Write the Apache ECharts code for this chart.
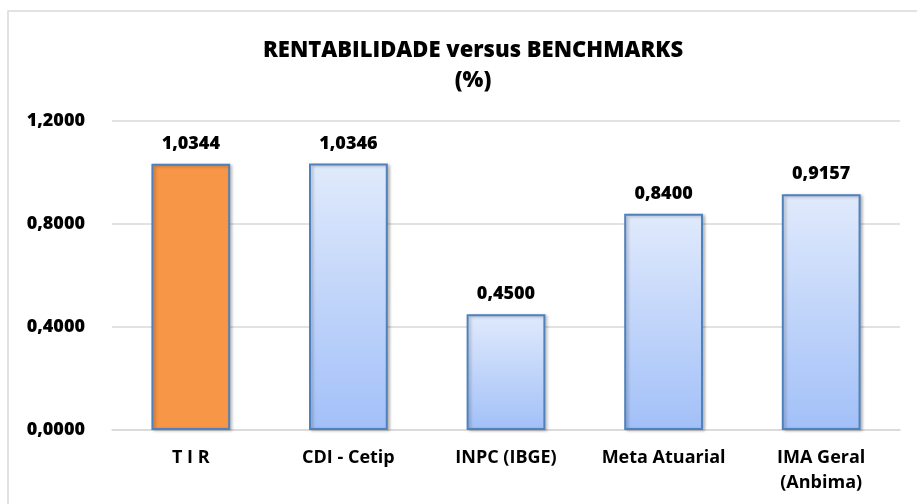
<!DOCTYPE html>
<html style="height: 100%">

<head>
  <meta charset="utf-8">
</head>

<body style="height: 100%; margin: 0; background: #fff">
  <div id="container" style="height: 100%"></div>
  <script type="text/javascript" src="https://cdn.jsdelivr.net/npm/echarts@6/dist/echarts.min.js"></script>
  <script type="text/javascript">
    var categories = ['T I R', 'CDI - Cetip', 'INPC (IBGE)', 'Meta Atuarial', 'IMA Geral\n(Anbima)'];
    var values = [1.0344, 1.0346, 0.45, 0.84, 0.9157];
    var yTicks = [0, 0.4, 0.8, 1.2];

    var blueFill = new echarts.graphic.LinearGradient(0, 0, 0, 1, [
      { offset: 0, color: '#E0EAFC' },
      { offset: 1, color: '#A2C0F8' }
    ]);

    function fmt(v) {
      return v.toFixed(4).replace('.', ',');
    }

    var dom = document.getElementById("container");
    var myChart = echarts.init(dom);
    var option = {
      animation: false,
      graphic: [{
        type: 'rect',
        shape: { x: 8, y: 11, width: 930, height: 520 },
        style: { fill: 'none', stroke: '#D9D9D9', lineWidth: 1.5 },
        silent: true
      }],
      title: {
        text: 'RENTABILIDADE versus BENCHMARKS\n(%)',
        left: 468,
        textAlign: 'center',
        top: 31,
        textStyle: {
          fontFamily: 'Open Sans',
          fontWeight: 800,
          fontSize: 22,
          lineHeight: 30,
          color: '#000'
        }
      },
      grid: {
        left: 112,
        right: 17,
        top: 121,
        bottom: 74
      },
      xAxis: {
        type: 'category',
        data: categories,
        axisTick: { show: false },
        axisLine: { lineStyle: { color: '#D9D9D9', width: 1.5 } },
        axisLabel: {
          interval: 0,
          margin: 15,
          fontFamily: 'Open Sans',
          fontWeight: 'bold',
          fontSize: 18,
          lineHeight: 25,
          color: '#000'
        }
      },
      yAxis: {
        type: 'value',
        min: yTicks[0],
        max: yTicks[yTicks.length - 1],
        interval: 0.4,
        axisLine: { show: false },
        axisTick: { show: false },
        splitLine: { lineStyle: { color: '#D9D9D9', width: 1.5 } },
        axisLabel: {
          margin: 27,
          fontFamily: 'Open Sans',
          fontWeight: 800,
          fontSize: 18,
          color: '#000',
          formatter: fmt
        }
      },
      series: [{
        type: 'bar',
        barWidth: '50%',
        data: values.map(function (v, i) {
          return {
            value: v,
            itemStyle: { color: i === 0 ? '#F79646' : blueFill }
          };
        }),
        itemStyle: {
          borderColor: '#4F81BD',
          borderWidth: 2,
          shadowColor: 'rgba(0,0,0,0.25)',
          shadowBlur: 3,
          shadowOffsetX: 2,
          shadowOffsetY: 1
        },
        label: {
          show: true,
          position: 'top',
          distance: 11,
          fontFamily: 'Open Sans',
          fontWeight: 800,
          fontSize: 18,
          color: '#000',
          formatter: function (p) { return fmt(p.value); }
        }
      }]
    };
    myChart.setOption(option);
  </script>
</body>

</html>
